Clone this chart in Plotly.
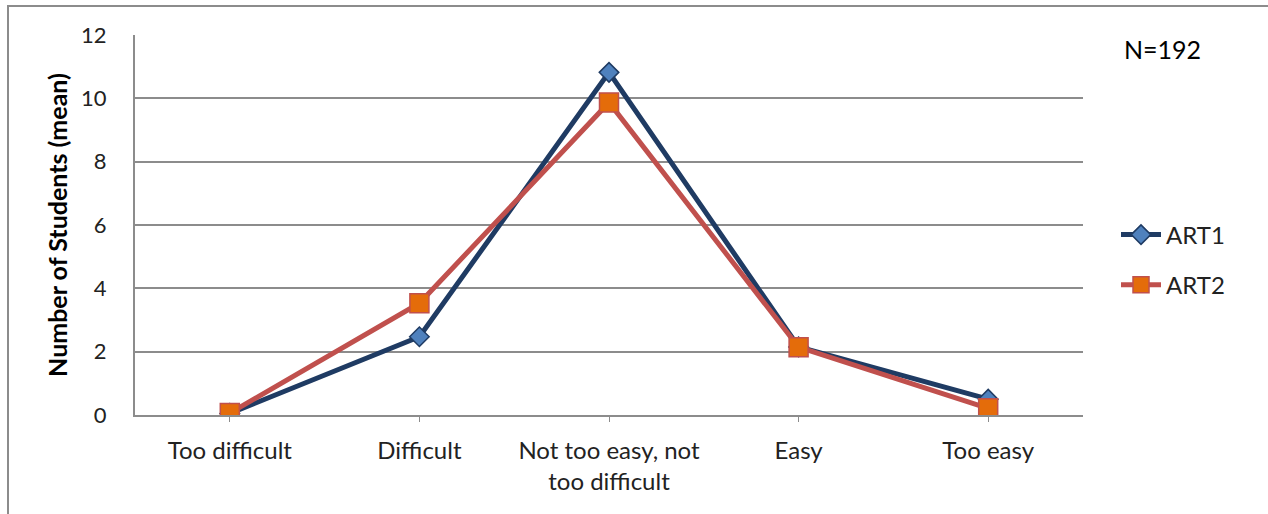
import plotly.graph_objects as go

# Difficulty rating categories and mean counts per exercise set
categories = ["Too difficult", "Difficult", "Not too easy, not<br>too difficult", "Easy", "Too easy"]
art1 = [0.05, 2.47, 10.82, 2.15, 0.50]
art2 = [0.06, 3.53, 9.87, 2.14, 0.21]
y_ticks = [0, 2, 4, 6, 8, 10, 12]

FONT = "Lato, Calibri, sans-serif"
W, H = 1268, 514
L, R, T, B = 135, 185, 35, 99

fig = go.Figure()
fig.add_trace(go.Scatter(
    x=list(range(len(categories))), y=art1, name="ART1", mode="lines+markers",
    legendgroup="a1",
    line=dict(color="#1F3B63", width=5),
    marker=dict(symbol="diamond", size=15, color="#4F81BD",
                line=dict(color="#1F3B63", width=1.5)),
))
fig.add_trace(go.Scatter(
    x=list(range(len(categories))), y=art2, name="ART2", mode="lines+markers",
    legendgroup="a2",
    line=dict(color="#C0504D", width=5),
    marker=dict(symbol="square", size=19, color="#E46C0A",
                line=dict(color="#C0504D", width=1.5)),
))

# Outer chart frame (left and top edges)
pw, ph = W - L - R, H - T - B
def px(x):
    return (x - L) / pw
def py(y):
    return (H - B - y) / ph

fig.add_shape(type="line", xref="paper", yref="paper",
              x0=px(8), x1=px(8), y0=py(6), y1=py(530),
              line=dict(color="#8C8C8C", width=2))
fig.add_shape(type="line", xref="paper", yref="paper",
              x0=px(7), x1=px(1290), y0=py(6), y1=py(6),
              line=dict(color="#8C8C8C", width=2))

fig.add_annotation(text="N=192", xref="paper", yref="paper",
                   x=px(1122), y=py(49), xanchor="left", yanchor="middle",
                   showarrow=False, font=dict(family=FONT, size=25, color="#000"))

fig.update_layout(
    width=W, height=H,
    margin=dict(l=L, r=R, t=T, b=B, pad=0),
    paper_bgcolor="white", plot_bgcolor="white",
    showlegend=True,
    legend=dict(x=px(1116), y=py(260), xanchor="left", yanchor="middle",
                font=dict(family=FONT, size=24, color="#222"),
                itemwidth=40, tracegroupgap=16, bgcolor="rgba(0,0,0,0)"),
    font=dict(family=FONT, color="#222"),
)
fig.update_xaxes(
    tickmode="array", tickvals=list(range(len(categories))), ticktext=categories,
    range=[-0.5, len(categories) - 0.5],
    showgrid=False, showline=True, linecolor="#8C8C8C", linewidth=2,
    ticks="outside", ticklen=5, tickcolor="#8C8C8C", ticklabelstandoff=8,
    tickfont=dict(family=FONT, size=24, color="#222"),
    zeroline=False, fixedrange=True,
)
fig.update_yaxes(
    tickvals=y_ticks, range=[0, 12],
    showgrid=True, gridcolor="#8C8C8C", gridwidth=2,
    showline=True, linecolor="#8C8C8C", linewidth=2,
    zeroline=False, ticks="", ticklabelstandoff=22,
    tickfont=dict(family=FONT, size=22, color="#222"),
    title=dict(text="<b>Number of Students (mean)</b>", standoff=6,
               font=dict(family=FONT, size=25, color="#000")),
    fixedrange=True,
)

fig.write_html("out.html")
